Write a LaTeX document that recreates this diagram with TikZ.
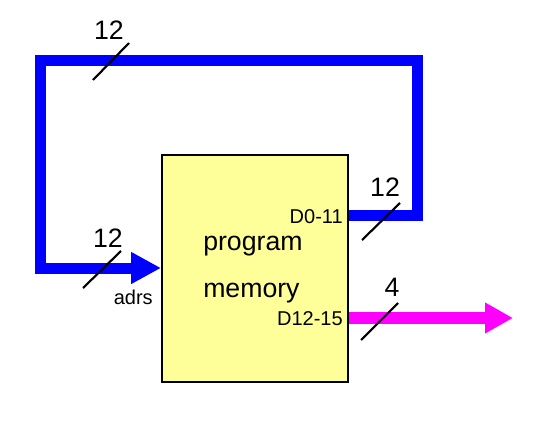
\documentclass[tikz,border=0pt]{standalone}
\usepackage{fontspec}
\setmainfont{Liberation Sans}
\usetikzlibrary{arrows.meta}
\definecolor{memyellow}{RGB}{255,255,153}
\definecolor{busblue}{RGB}{0,0,255}
\definecolor{busmag}{RGB}{255,0,255}
\begin{document}
\begin{tikzpicture}[x=0.75pt,y=-0.75pt,
  bus/.style={line width=8.25pt, line join=miter, line cap=butt},
  slash/.style={line width=1.6pt, black},
  big/.style={font=\fontsize{20}{24}\selectfont, inner sep=0pt},
  small/.style={font=\fontsize{15}{18}\selectfont, inner sep=0pt}]
\useasboundingbox (0,0) rectangle (535,439);
% memory box
\node[draw, line width=2.2pt, fill=memyellow, minimum width=139.5pt, minimum height=170.25pt, inner sep=0pt] (mem) at (255,268.5) {};
\node[big, anchor=base west] (prog) at (203,250) {program};
\node[big, anchor=base west] (memt) at (203,297) {memory};
\node[small, anchor=base east] (d0l) at (343,223) {D0-11};
\node[small, anchor=base east] (d12l) at (343,325) {D12-15};
\node[small, anchor=base east] (adrs) at (153,304) {adrs};
% coordinates
\coordinate (d0) at (349,215);
\coordinate (c1) at (417,215);
\coordinate (c2) at (417,60);
\coordinate (c3) at (40,60);
\coordinate (c4) at (40,268);
\coordinate (ain) at (161,268);
\coordinate (d12) at (349,318);
\coordinate (dout) at (513,318);
% blue loop
\draw[bus, busblue, -{Triangle[length=22.5pt,width=22.5pt]}] (d0) -- (c1) -- (c2) -- (c3) -- (c4) -- (ain);
% magenta output
\draw[bus, line width=9pt, busmag, -{Triangle[length=21pt,width=21.75pt]}] (d12) -- (dout);
% slashes
\coordinate (s1a) at (93,80); \coordinate (s1b) at (129,43);
\coordinate (s2a) at (83,288); \coordinate (s2b) at (121,251);
\coordinate (s3a) at (362,240); \coordinate (s3b) at (400,203);
\coordinate (s4a) at (361,340); \coordinate (s4b) at (398,303);
\draw[slash] (s1a) -- (s1b);
\draw[slash] (s2a) -- (s2b);
\draw[slash] (s3a) -- (s3b);
\draw[slash] (s4a) -- (s4b);
\node[big] (n1) at (109,30) {12};
\node[big] (n2) at (108,238) {12};
\node[big] (n3) at (385,187) {12};
\node[big] (n4) at (392,287) {4};
\end{tikzpicture}
\end{document}
